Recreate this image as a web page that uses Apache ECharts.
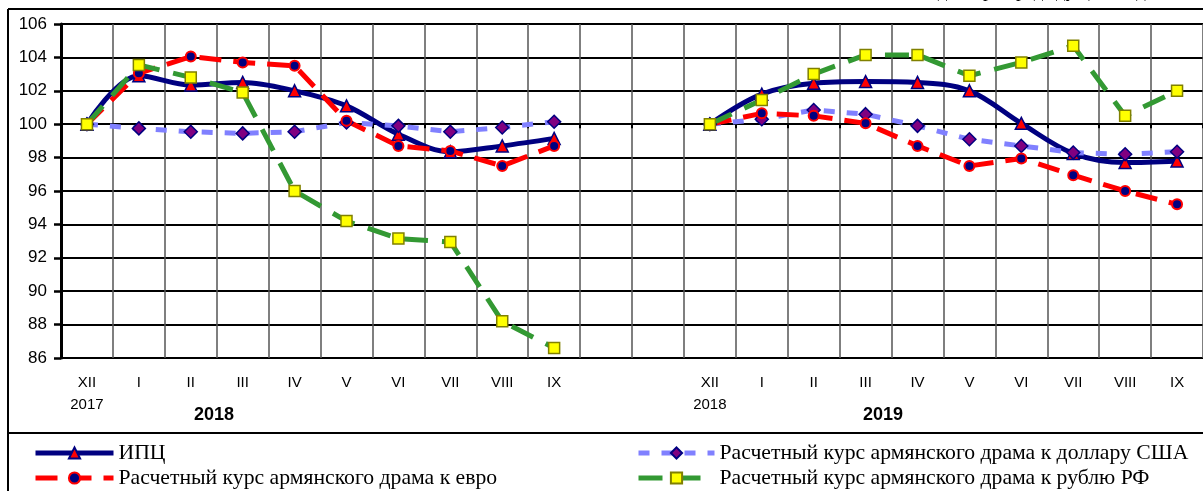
<!DOCTYPE html>
<html>
<head>
<meta charset="utf-8">
<script src="https://cdn.jsdelivr.net/npm/echarts@6/dist/echarts.min.js"></script>
<style>
html,body{margin:0;padding:0;background:#fff;}
#c{width:1203px;height:491px;}
</style>
</head>
<body>
<div id="c"></div>
<script>
var categories = ['XII\n2017','I','II','III','IV','V','VI','VII','VIII','IX','','','XII\n2018','I','II','III','IV','V','VI','VII','VIII','IX'];
var yearLabels = ['2018','2019'];

var cpi2018 = [100, 102.9, 102.35, 102.5, 102.0, 101.1, 99.4, 98.35, 98.7, 99.15];
var cpi2019 = [100, 101.8, 102.45, 102.55, 102.5, 102.0, 100.05, 98.25, 97.7, 97.8];

var usd2018 = [100, 99.75, 99.55, 99.45, 99.55, 100.1, 99.9, 99.55, 99.8, 100.15];
var usd2019 = [100, 100.3, 100.85, 100.6, 99.9, 99.1, 98.7, 98.3, 98.2, 98.35];

var eur2018 = [100, 103.05, 104.05, 103.7, 103.5, 100.2, 98.7, 98.4, 97.5, 98.7];
var eur2019 = [100, 100.65, 100.5, 100.05, 98.7, 97.5, 97.95, 96.95, 96.0, 95.2];

var rub2018 = [100, 103.55, 102.8, 101.9, 96.0, 94.2, 93.15, 92.95, 88.2, 86.6];
var rub2019 = [100, 101.45, 103.0, 104.15, 104.15, 102.9, 103.7, 104.7, 100.5, 102.0];

var names = ['ИПЦ', 'Расчетный курс армянского драма к доллару США', 'Расчетный курс армянского драма к евро', 'Расчетный курс армянского драма к рублю РФ'];

function join(a, b) { return a.concat([null, null], b); }

var chart = echarts.init(document.getElementById('c'), null, {renderer: 'canvas'});
var serif = 'Liberation Serif';
var sans = 'Liberation Sans';

function legendAt(name, left, top, w) {
  return {
    orient: 'horizontal', left: left, top: top, padding: 0,
    itemWidth: w, itemHeight: 14,
    lineStyle: {width: 'inherit'},
    textStyle: {fontFamily: serif, fontSize: 21.7, color: '#000'},
    data: [name]
  };
}

chart.setOption({
  animation: false,
  backgroundColor: '#fff',
  grid: {left: 61, right: -2, top: 24, bottom: 133, containLabel: false},
  xAxis: [{
    type: 'category',
    data: categories,
    boundaryGap: true,
    axisLine: {show: false},
    axisTick: {show: false},
    axisLabel: {interval: 0, fontFamily: sans, fontSize: 15, lineHeight: 22, margin: 14, color: '#000'},
    splitLine: {show: true, interval: 0, lineStyle: {color: '#555', width: 1.5}}
  }, {
    type: 'category',
    data: categories,
    boundaryGap: true,
    position: 'bottom',
    offset: -233.8,
    axisLine: {show: true, lineStyle: {color: '#000', width: 2}},
    axisTick: {show: true, interval: 0, length: 4, lineStyle: {color: '#000', width: 2}},
    axisLabel: {show: false},
    splitLine: {show: false}
  }],
  yAxis: {
    type: 'value',
    min: 86, max: 106, interval: 2,
    axisLine: {show: true, lineStyle: {color: '#000', width: 3}},
    axisTick: {show: true, length: 7, lineStyle: {color: '#000', width: 2.5}},
    axisLabel: {fontFamily: sans, fontSize: 17, color: '#000', margin: 14},
    splitLine: {show: true, lineStyle: {color: '#000', width: 2}}
  },
  legend: [
    legendAt(names[0], 33, 442, 78),
    legendAt(names[2], 33, 467, 78),
    legendAt(names[1], 636, 442, 76),
    legendAt(names[3], 636, 467, 76)
  ],
  series: [{
    name: names[0], type: 'line', data: join(cpi2018, cpi2019),
    smooth: 0.35, connectNulls: false,
    lineStyle: {color: '#000080', width: 5},
    symbol: 'triangle', symbolSize: 12,
    itemStyle: {color: '#FF0000', borderColor: '#000080', borderWidth: 1.5}
  }, {
    name: names[1], type: 'line', data: join(usd2018, usd2019),
    connectNulls: false,
    lineStyle: {color: '#8080FF', width: 5, type: [11, 12]},
    symbol: 'diamond', symbolSize: 13,
    itemStyle: {color: '#800080', borderColor: '#000080', borderWidth: 1.5}
  }, {
    name: names[2], type: 'line', data: join(eur2018, eur2019),
    connectNulls: false,
    lineStyle: {color: '#FF0000', width: 5, type: [22, 12]},
    symbol: 'circle', symbolSize: 10,
    itemStyle: {color: '#000080', borderColor: '#FF0000', borderWidth: 2}
  }, {
    name: names[3], type: 'line', data: join(rub2018, rub2019),
    connectNulls: false,
    lineStyle: {color: '#339933', width: 5, type: [24, 14]},
    symbol: 'rect', symbolSize: 11,
    itemStyle: {color: '#FFFF00', borderColor: '#808000', borderWidth: 1.5}
  }],
  graphic: [
    {type: 'line', shape: {x1: 8, y1: 9, x2: 1203, y2: 9}, style: {stroke: '#000', lineWidth: 2}, silent: true},
    {type: 'line', shape: {x1: 8, y1: 9, x2: 8, y2: 491}, style: {stroke: '#000', lineWidth: 2}, silent: true},
    {type: 'line', shape: {x1: 8, y1: 433, x2: 1203, y2: 433}, style: {stroke: '#000', lineWidth: 2}, silent: true},
    {type: 'text', x: 214, y: 415, style: {text: yearLabels[0], font: 'bold 18px "Liberation Sans"', fill: '#000', align: 'center', verticalAlign: 'middle'}},
    {type: 'text', x: 883, y: 415, style: {text: yearLabels[1], font: 'bold 18px "Liberation Sans"', fill: '#000', align: 'center', verticalAlign: 'middle'}},
    {type: 'text', x: 1203, y: 2, style: {text: 'декабрь предыдущего года = 100', font: '19px "Liberation Serif"', fill: '#000', align: 'right', verticalAlign: 'bottom'}}
  ]
});
</script>
</body>
</html>
